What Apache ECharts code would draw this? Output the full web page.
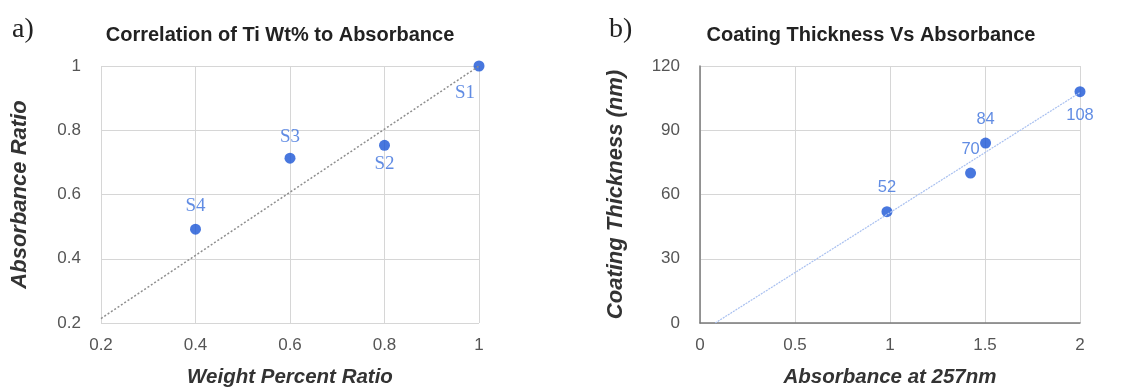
<!DOCTYPE html>
<html><head><meta charset="utf-8">
<script src="https://cdn.jsdelivr.net/npm/echarts@6/dist/echarts.min.js"></script>
<style>html,body{margin:0;padding:0;background:#fff}#c{width:1146px;height:392px}</style>
</head><body><div id="c"></div>
<script>
// Chart a) data
const aNames = ['S1', 'S2', 'S3', 'S4'];
const aX = [1.0, 0.8, 0.6, 0.4];
const aY = [1.0, 0.753, 0.713, 0.492];
const aTrendX = [0.2, 1.0];
const aTrendY = [0.214, 1.0];
const aTicks = [0.2, 0.4, 0.6, 0.8, 1];
// Chart b) data
const bX = [0.984, 1.424, 1.503, 2.0];
const bY = [52, 70, 84, 108];
const bLabels = ['52', '70', '84', '108'];
const bTrendX = [0.08, 2.0];
const bTrendY = [0, 107.6];
const bXTicks = [0, 0.5, 1, 1.5, 2];
const bYTicks = [0, 30, 60, 90, 120];

const blue = '#1a55d6';
const labBlue = '#3a6fdc';
const tickStyle = {color: '#555', fontSize: 17, fontFamily: 'Liberation Sans, Arial, sans-serif'};
const xNameStyle = {color: '#333', fontSize: 20.5, fontWeight: 'bold', fontStyle: 'italic', fontFamily: 'Liberation Sans, Arial, sans-serif'};
const yNameStyle = {color: '#333', fontSize: 22, fontWeight: 'bold', fontStyle: 'italic', fontFamily: 'Liberation Sans, Arial, sans-serif'};
const gridLine = {show: true, lineStyle: {color: '#d6d6d6', width: 1}};

const aOffsets = [
  {position: 'bottom', offset: [-14, 7]},
  {position: 'bottom', offset: [0, -1]},
  {position: 'top', offset: [0, -1]},
  {position: 'top', offset: [0, -3]}
];
const bOffsets = [
  {position: 'top', offset: [0, -5]},
  {position: 'top', offset: [0, -5]},
  {position: 'top', offset: [0, -5]},
  {position: 'bottom', offset: [0, 5]}
];

const chart = echarts.init(document.getElementById('c'), null, {renderer: 'canvas'});
chart.setOption({
  animation: false,
  backgroundColor: '#fff',
  title: [
    {text: 'Correlation of Ti Wt% to Absorbance', left: 275, top: 20, textAlign: 'center',
     textStyle: {fontSize: 20, fontWeight: 'bold', color: '#222', fontFamily: 'Liberation Sans, Arial, sans-serif'}},
    {text: 'Coating Thickness Vs Absorbance', left: 866, top: 20, textAlign: 'center',
     textStyle: {fontSize: 20, fontWeight: 'bold', color: '#222', fontFamily: 'Liberation Sans, Arial, sans-serif'}},
    {text: 'a)', left: 7, top: 11, textStyle: {fontSize: 28, fontWeight: 'normal', color: '#222', fontFamily: 'Liberation Serif, Times New Roman, serif'}},
    {text: 'b)', left: 604, top: 11, textStyle: {fontSize: 28, fontWeight: 'normal', color: '#222', fontFamily: 'Liberation Serif, Times New Roman, serif'}}
  ],
  grid: [
    {left: 101, top: 66, width: 378, height: 257},
    {left: 700, top: 66, width: 380, height: 257}
  ],
  xAxis: [
    {gridIndex: 0, type: 'value', min: 0.2, max: 1, interval: 0.2,
     name: 'Weight Percent Ratio', nameLocation: 'middle', nameGap: 44, nameTextStyle: xNameStyle,
     axisLine: {show: false}, axisTick: {show: false}, splitLine: gridLine,
     axisLabel: Object.assign({margin: 14, formatter: v => String(+v.toFixed(1))}, tickStyle)},
    {gridIndex: 1, type: 'value', min: 0, max: 2, interval: 0.5,
     name: 'Absorbance at 257nm', nameLocation: 'middle', nameGap: 44, nameTextStyle: xNameStyle,
     axisLine: {show: true, onZero: false, lineStyle: {color: '#7a7a7a', width: 1.5}}, axisTick: {show: false}, splitLine: gridLine,
     axisLabel: Object.assign({margin: 14}, tickStyle)}
  ],
  yAxis: [
    {gridIndex: 0, type: 'value', min: 0.2, max: 1, interval: 0.2,
     name: 'Absorbance Ratio', nameLocation: 'middle', nameGap: 70, nameRotate: 90, nameTextStyle: yNameStyle,
     axisLine: {show: false}, axisTick: {show: false}, splitLine: gridLine,
     axisLabel: Object.assign({margin: 20, formatter: v => String(+v.toFixed(1))}, tickStyle)},
    {gridIndex: 1, type: 'value', min: 0, max: 120, interval: 30,
     name: 'Coating Thickness (nm)', nameLocation: 'middle', nameGap: 73, nameRotate: 90, nameTextStyle: yNameStyle,
     axisLine: {show: true, onZero: false, lineStyle: {color: '#7a7a7a', width: 1.5}}, axisTick: {show: false}, splitLine: gridLine,
     axisLabel: Object.assign({margin: 20}, tickStyle)}
  ],
  series: [
    {type: 'line', xAxisIndex: 0, yAxisIndex: 0, symbol: 'none', silent: true,
     lineStyle: {color: '#8e8e8e', width: 1.5, type: [2, 2]},
     data: aTrendX.map((x, i) => [x, aTrendY[i]])},
    {type: 'scatter', xAxisIndex: 0, yAxisIndex: 0, symbolSize: 11,
     itemStyle: {color: blue},
     data: aX.map((x, i) => ({value: [x, aY[i]], name: aNames[i],
       label: Object.assign({show: true, formatter: aNames[i], color: labBlue, fontSize: 19,
         fontFamily: 'Liberation Serif, Times New Roman, serif'}, aOffsets[i])}))},
    {type: 'line', xAxisIndex: 1, yAxisIndex: 1, symbol: 'none', silent: true,
     lineStyle: {color: '#a9c0f0', width: 1.2, type: [2, 1]},
     data: bTrendX.map((x, i) => [x, bTrendY[i]])},
    {type: 'scatter', xAxisIndex: 1, yAxisIndex: 1, symbolSize: 11,
     itemStyle: {color: blue},
     data: bX.map((x, i) => ({value: [x, bY[i]],
       label: Object.assign({show: true, formatter: bLabels[i], color: labBlue, fontSize: 16.5,
         fontFamily: 'Liberation Sans, Arial, sans-serif'}, bOffsets[i])}))}
  ]
});
</script></body></html>
